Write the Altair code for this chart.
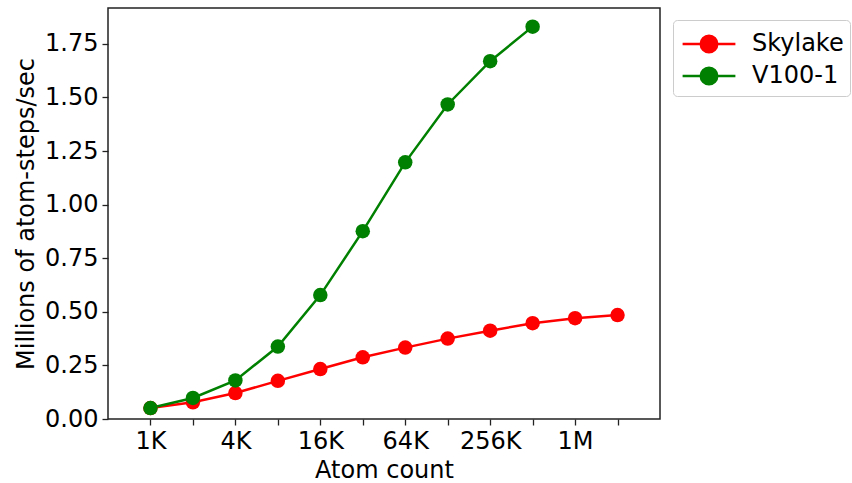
import altair as alt
import pandas as pd

# ---- data ----
atoms_skylake = [1024, 2048, 4096, 8192, 16384, 32768, 65536, 131072, 262144, 524288, 1048576, 2097152]
skylake = [0.051, 0.078, 0.121, 0.178, 0.233, 0.288, 0.333, 0.375, 0.412, 0.447, 0.470, 0.485]

atoms_v100 = [1024, 2048, 4096, 8192, 16384, 32768, 65536, 131072, 262144, 524288]
v100 = [0.051, 0.098, 0.180, 0.338, 0.578, 0.876, 1.197, 1.467, 1.669, 1.830]

series_names = ["Skylake", "V100-1"]
series_colors = ["#ff0000", "#008000"]

x_tick_values = [1024, 2048, 4096, 8192, 16384, 32768, 65536, 131072, 262144, 524288, 1048576, 2097152]
x_tick_labels = ["1K", "", "4K", "", "16K", "", "64K", "", "256K", "", "1M", ""]
y_tick_values = [0.0, 0.25, 0.5, 0.75, 1.0, 1.25, 1.5, 1.75]

rows = []
for a, v in zip(atoms_skylake, skylake):
    rows.append({"atoms": a, "value": v, "series": series_names[0]})
for a, v in zip(atoms_v100, v100):
    rows.append({"atoms": a, "value": v, "series": series_names[1]})
df = pd.DataFrame(rows)

label_expr = " : ".join(
    f"datum.value == {v} ? '{l}'" for v, l in zip(x_tick_values, x_tick_labels) if l
) + " : ''"

FONT = "DejaVu Sans"

x = alt.X(
    "atoms:Q",
    scale=alt.Scale(type="log", base=2, domain=[512, 4194304], nice=False),
    axis=alt.Axis(
        title="Atom count",
        values=x_tick_values,
        labelExpr=label_expr,
        grid=False,
        domain=False,
        tickSize=6,
        labelPadding=4,
        titlePadding=5,
    ),
)
y = alt.Y(
    "value:Q",
    scale=alt.Scale(domain=[0, 1.917], nice=False, zero=False),
    axis=alt.Axis(
        title="Millions of atom-steps/sec",
        values=y_tick_values,
        format=".2f",
        grid=False,
        domain=False,
        tickSize=6,
        labelPadding=4,
        titlePadding=6,
    ),
)
color_scale = alt.Scale(domain=series_names, range=series_colors)

legend = alt.Legend(
    title=None,
    orient="none",
    legendX=565,
    legendY=12,
    symbolType="M-1.6,0H1.6M-0.5,0A0.5,0.5 0 1,0 0.5,0A0.5,0.5 0 1,0 -0.5,0Z",
    symbolSize=1089,
    symbolStrokeWidth=2.5,
    symbolOffset=12,
    labelFontSize=24,
    labelFont=FONT,
    labelColor="black",
    labelOffset=25,
    rowPadding=0,
    padding=6,
    strokeColor="#cccccc",
    fillColor="white",
    cornerRadius=4,
)

base = alt.Chart(df)
lines = base.mark_line(strokeWidth=2.5).encode(
    x=x, y=y,
    color=alt.Color("series:N", scale=color_scale, legend=legend, sort=series_names),
    detail="series:N",
)
points = base.mark_point(filled=True, size=210, opacity=1, strokeWidth=1).encode(
    x=x, y=y,
    fill=alt.Fill("series:N", scale=color_scale, legend=legend, sort=series_names),
    color=alt.Color("series:N", scale=color_scale, legend=legend, sort=series_names),
)

chart = (
    alt.layer(lines, points)
    .properties(
        width=552,
        height=411,
        autosize=alt.AutoSizeParams(type="none"),
        padding={"left": 108, "top": 8, "right": 192, "bottom": 64},
    )
    .configure(font=FONT)
    .configure_view(stroke="#222222", strokeWidth=1.5)
    .configure_axis(
        labelFont=FONT,
        titleFont=FONT,
        labelFontSize=24,
        titleFontSize=24,
        titleFontWeight="normal",
        labelColor="black",
        titleColor="black",
        tickColor="#222222",
        tickWidth=1.3,
    )
)

chart.save("out.html", embed_options={"renderer": "svg", "actions": False})
